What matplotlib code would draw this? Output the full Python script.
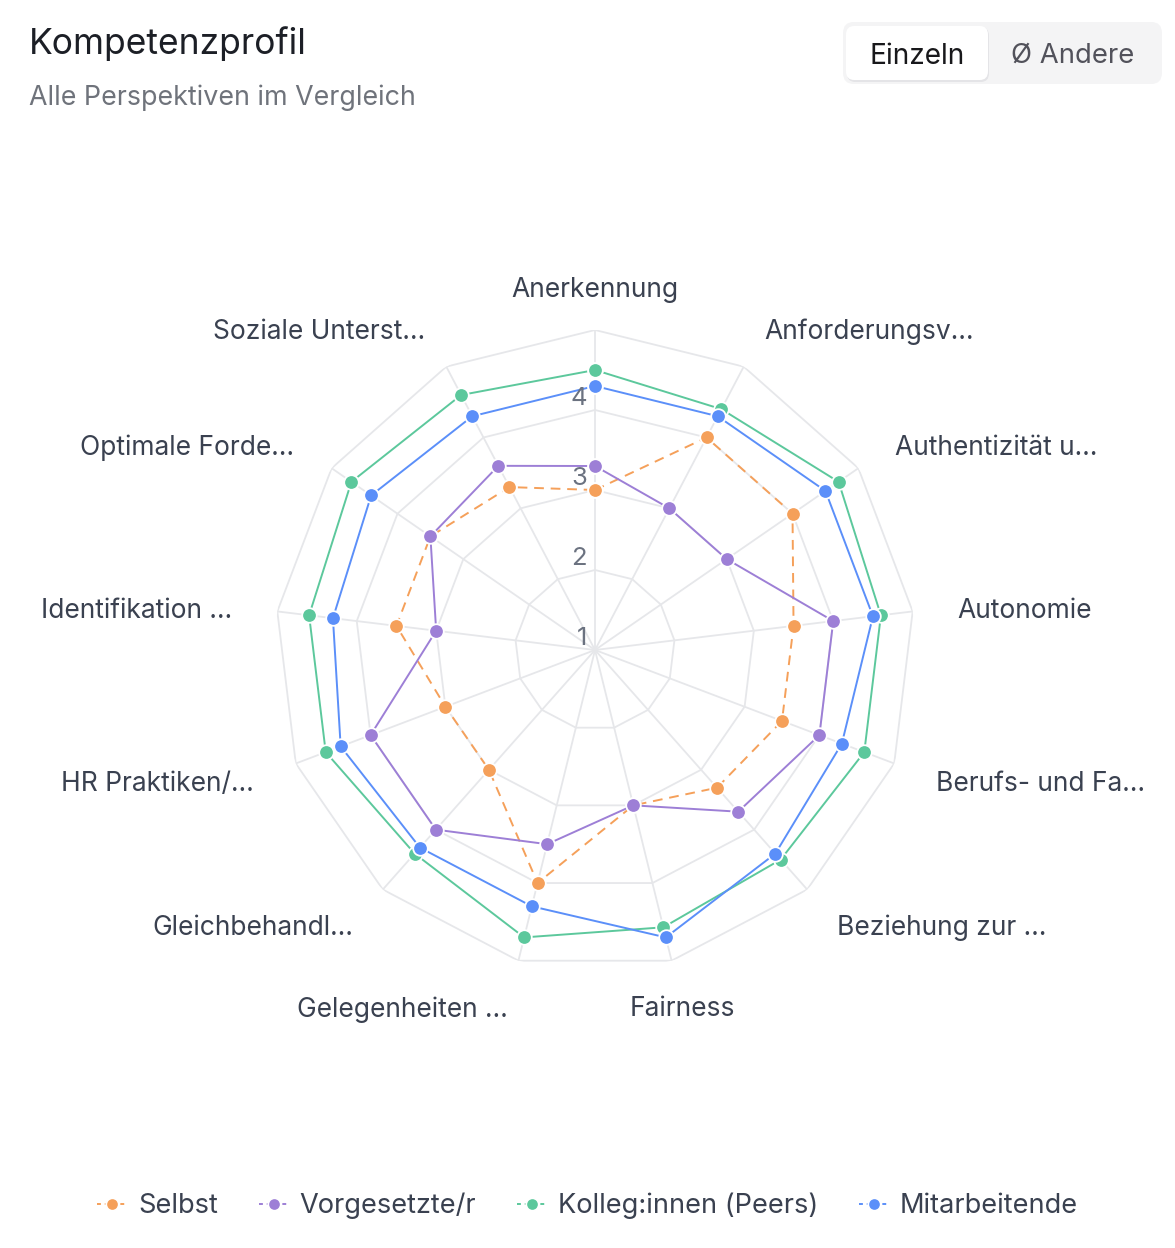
#radar chart: competence profile, all perspectives
import numpy as np
import matplotlib
matplotlib.use("Agg")
import matplotlib.pyplot as plt
from matplotlib.patches import FancyBboxPatch

plt.rcParams['font.family'] = ['Inter', 'DejaVu Sans']

labels = ["Anerkennung", "Anforderungsv…", "Authentizität u…", "Autonomie",
          "Berufs- und Fa…", "Beziehung zur …", "Fairness", "Gelegenheiten …",
          "Gleichbehandl…", "HR Praktiken/…", "Identifikation …",
          "Optimale Forde…", "Soziale Unterst…"]
selbst = [3.0, 4.0, 4.0, 3.5, 3.5, 3.3, 3.0, 4.0, 3.0, 3.0, 3.5, 3.5, 3.3]
vorgesetzte = [3.3, 3.0, 3.0, 4.0, 4.0, 3.7, 3.0, 3.5, 4.0, 4.0, 3.0, 3.5, 3.6]
peers = [4.5, 4.4, 4.7, 4.6, 4.6, 4.5, 4.57, 4.7, 4.4, 4.6, 4.6, 4.7, 4.6]
mitarbeitende = [4.3, 4.3, 4.5, 4.5, 4.3, 4.4, 4.7, 4.3, 4.3, 4.4, 4.3, 4.4, 4.3]
series_names = ["Selbst", "Vorgesetzte/r", "Kolleg:innen (Peers)", "Mitarbeitende"]
colors = ["#f5a05a", "#9d7fd6", "#5cc89c", "#5b8ff9"]
ring_levels = [2, 3, 4, 5]
tick_levels = [1, 2, 3, 4]

W, H = 1175, 1248
fig = plt.figure(figsize=(W/100, H/100), dpi=100)
ax = fig.add_axes([275/W, (H-650-320)/H, 640/W, 640/H], projection='polar')
ax.set_theta_zero_location('N')
ax.set_theta_direction(-1)
ax.set_ylim(1, 5)
ax.grid(False)
ax.spines['polar'].set_visible(False)
ax.set_xticks([])
ax.set_yticks([])
ax.patch.set_alpha(0)

n = len(labels)
ang = np.linspace(0, 2*np.pi, n, endpoint=False)
ang_c = np.append(ang, ang[0])

grid_c = "#e6e7ea"
for lv in ring_levels:
    ax.plot(ang_c, [lv]*(n+1), color=grid_c, lw=1.3, zorder=1)
for a in ang:
    ax.plot([a, a], [1, 5], color=grid_c, lw=1.3, zorder=1)

data = [selbst, vorgesetzte, peers, mitarbeitende]
for i, vals in enumerate(data):
    v = np.append(vals, vals[0])
    ls = (0, (5, 3.5)) if i == 0 else '-'
    ax.plot(ang_c, v, color=colors[i], lw=1.4, ls=ls, marker='o', ms=10.5,
            mfc=colors[i], mec='white', mew=1.3, label=series_names[i],
            zorder=3+i, clip_on=False)

# axis labels
r_lab = 1 + 365/80
for i, (a, t) in enumerate(zip(ang, labels)):
    s = np.sin(a)
    if abs(s) < 0.05 or t == "Fairness":
        ha = 'center'
    elif s > 0:
        ha = 'left'
    else:
        ha = 'right'
    ax.annotate(t, (a, r_lab), xytext=(0, -5), textcoords='offset pixels',
                ha=ha, va='center', fontsize=19, color="#3a4150",
                annotation_clip=False)

for lv in tick_levels:
    ax.annotate(str(lv), (0, lv), xytext=(-8, 0), textcoords='offset pixels',
                ha='right', va='bottom', fontsize=18.5, color="#6b7280", zorder=10)

# header
fig.text(29/W, 1-44/H, "Kompetenzprofil", fontsize=25.5, color="#1c1f26",
         va='center', ha='left')
fig.text(29/W, 1-98/H, "Alle Perspektiven im Vergleich", fontsize=19.3,
         color="#6f737b", va='center', ha='left')

# toggle buttons
outer = FancyBboxPatch((843/W, 1-84/H), 319/W, 62/H,
                       boxstyle="round,pad=0,rounding_size=0.009",
                       transform=fig.transFigure, fc="#f4f4f5", ec="none")
fig.patches.append(outer)
shadow = FancyBboxPatch((847/W, 1-82/H), 142/W, 55/H,
                        boxstyle="round,pad=0,rounding_size=0.007",
                        transform=fig.transFigure, fc="#e4e4e7", ec="none")
fig.patches.append(shadow)
inner = FancyBboxPatch((846/W, 1-80/H), 142/W, 54/H,
                       boxstyle="round,pad=0,rounding_size=0.007",
                       transform=fig.transFigure, fc="white", ec="none")
fig.patches.append(inner)
fig.text(917/W, 1-56/H, "Einzeln", fontsize=20.2, color="#18181b",
         ha='center', va='center')
fig.text(1073/W, 1-56/H, "Ø Andere", fontsize=19.8, color="#52525b",
         ha='center', va='center')

leg = fig.legend(loc='center', bbox_to_anchor=(0.5, 1-1206/H), ncol=4,
                 frameon=False, fontsize=19.6, handlelength=1.1, handletextpad=0.4,
                 columnspacing=1.5, labelcolor="#3a4150")
for h in leg.legend_handles:
    h.set_linestyle((0, (2, 2)))
    h.set_markersize(9)

fig.savefig("out.png", dpi=100)
